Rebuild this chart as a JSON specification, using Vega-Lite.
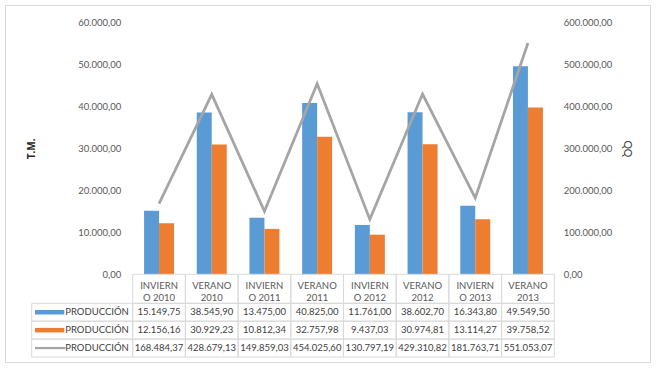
{
  "$schema": "https://vega.github.io/schema/vega-lite/v6.json",
  "width": 645,
  "height": 357,
  "padding": 5,
  "autosize": {"type": "none"},
  "background": "white",
  "config": {
    "locale": {"number": {"decimal": ",", "thousands": ".", "grouping": [3], "currency": ["", ""]}},
    "view": {"stroke": "#D9D9D9", "strokeWidth": 1},
    "font": "Lato"
  },
  "datasets": {
    "prod": [
      {"cat": "INVIERNO 2010", "a": 15149.75, "b": 12156.16, "q": 168484.37},
      {"cat": "VERANO 2010", "a": 38545.90, "b": 30929.23, "q": 428679.13},
      {"cat": "INVIERNO 2011", "a": 13475.00, "b": 10812.34, "q": 149859.03},
      {"cat": "VERANO 2011", "a": 40825.00, "b": 32757.98, "q": 454025.60},
      {"cat": "INVIERNO 2012", "a": 11761.00, "b": 9437.03, "q": 130797.19},
      {"cat": "VERANO 2012", "a": 38602.70, "b": 30974.81, "q": 429310.82},
      {"cat": "INVIERNO 2013", "a": 16343.80, "b": 13114.27, "q": 181763.71},
      {"cat": "VERANO 2013", "a": 49549.50, "b": 39758.52, "q": 551053.07}
    ],
    "leg": [
      {"series": "a", "name": "PRODUCCIÓN"},
      {"series": "b", "name": "PRODUCCIÓN"},
      {"series": "q", "name": "PRODUCCIÓN"}
    ]
  },
  "resolve": {
    "scale": {"x": "independent", "y": "independent", "xOffset": "independent"},
    "axis": {"x": "independent", "y": "independent"}
  },
  "layer": [
    {
      "data": {"name": "prod"},
      "transform": [{"fold": ["a", "b"], "as": ["series", "value"]}],
      "mark": {"type": "bar"},
      "encoding": {
        "x": {"field": "cat", "type": "nominal", "sort": null, "axis": null,
          "scale": {"type": "band", "domain": ["INVIERNO 2010", "VERANO 2010", "INVIERNO 2011", "VERANO 2011", "INVIERNO 2012", "VERANO 2012", "INVIERNO 2013", "VERANO 2013"], "range": [127.7, 549.3], "paddingInner": 0, "paddingOuter": 0}},
        "xOffset": {"field": "series", "type": "nominal", "scale": {"domain": ["a", "b"], "paddingInner": 0, "paddingOuter": 0.757}},
        "y": {"field": "value", "type": "quantitative",
          "scale": {"domain": [0, 60000], "range": [269.3, 17.4], "nice": false},
          "axis": {"orient": "left", "offset": -127.7, "values": [0, 10000, 20000, 30000, 40000, 50000, 60000], "format": ",.2f",
            "ticks": false, "tickSize": 0, "domain": false, "grid": false, "labelPadding": 12, "labelFontSize": 9.5, "labelColor": "#595959",
            "title": "T.M.", "titleFont": "Open Sans", "titleFontSize": 10, "titleFontWeight": "bold", "titleColor": "#262626",
            "titleX": -101, "titleY": 143.3, "titleAngle": -90, "titleBaseline": "middle", "titleAlign": "center"}},
        "color": {"field": "series", "type": "nominal", "scale": {"domain": ["a", "b", "q"], "range": ["#5B9BD5", "#ED7D31", "#A5A5A5"]}, "legend": null}
      }
    },
    {
      "data": {"name": "prod"},
      "mark": {"type": "line", "color": "#A5A5A5", "strokeWidth": 2.75},
      "encoding": {
        "x": {"field": "cat", "type": "nominal", "sort": null, "axis": null,
          "scale": {"type": "band", "domain": ["INVIERNO 2010", "VERANO 2010", "INVIERNO 2011", "VERANO 2011", "INVIERNO 2012", "VERANO 2012", "INVIERNO 2013", "VERANO 2013"], "range": [127.7, 549.3], "paddingInner": 0, "paddingOuter": 0}},
        "y": {"field": "q", "type": "quantitative",
          "scale": {"domain": [0, 600000], "range": [269.3, 17.4], "nice": false},
          "axis": {"orient": "right", "offset": -95.7, "values": [0, 100000, 200000, 300000, 400000, 500000, 600000], "format": ",.2f",
            "ticks": false, "tickSize": 0, "domain": false, "grid": false, "labelPadding": 9, "labelFontSize": 9.5, "labelColor": "#595959",
            "title": "QQ", "titleFontSize": 10.5, "titleFontWeight": "normal", "titleColor": "#404040",
            "titleX": 71.7, "titleY": 143.3, "titleAngle": 90, "titleBaseline": "middle", "titleAlign": "center"}}
      }
    },
    {
      "data": {"name": "prod"},
      "mark": {"type": "rect", "fillOpacity": 0, "stroke": "#D9D9D9", "strokeWidth": 1},
      "encoding": {
        "x": {"field": "cat", "type": "nominal", "sort": null, "axis": null,
          "scale": {"type": "band", "domain": ["INVIERNO 2010", "VERANO 2010", "INVIERNO 2011", "VERANO 2011", "INVIERNO 2012", "VERANO 2012", "INVIERNO 2013", "VERANO 2013"], "range": [127.7, 549.3], "paddingInner": 0, "paddingOuter": 0}},
        "y": {"datum": "h", "type": "nominal", "axis": null, "scale": {"type": "band", "domain": ["h"], "range": [269.3, 298.3], "paddingInner": 0, "paddingOuter": 0}}
      }
    },
    {
      "data": {"name": "prod"},
      "transform": [{"calculate": "indexof(datum.cat, 'INVIERNO') == 0 ? 'INVIERN\\nO ' + slice(datum.cat, 9) : replace(datum.cat, ' ', '\\n')", "as": "lbl"}],
      "mark": {"type": "text", "lineBreak": "\n", "lineHeight": 12, "fontSize": 9.5, "color": "#595959", "align": "center", "baseline": "middle"},
      "encoding": {
        "x": {"field": "cat", "type": "nominal", "sort": null, "axis": null,
          "scale": {"type": "band", "domain": ["INVIERNO 2010", "VERANO 2010", "INVIERNO 2011", "VERANO 2011", "INVIERNO 2012", "VERANO 2012", "INVIERNO 2013", "VERANO 2013"], "range": [127.7, 549.3], "paddingInner": 0, "paddingOuter": 0}},
        "y": {"datum": "h", "type": "nominal", "axis": null, "scale": {"type": "band", "domain": ["h"], "range": [266.6, 295.6], "paddingInner": 0, "paddingOuter": 0}},
        "text": {"field": "lbl", "type": "nominal"}
      }
    },
    {
      "data": {"name": "prod"},
      "transform": [{"fold": ["a", "b", "q"], "as": ["series", "value"]}],
      "mark": {"type": "rect", "fillOpacity": 0, "stroke": "#D9D9D9", "strokeWidth": 1},
      "encoding": {
        "x": {"field": "cat", "type": "nominal", "sort": null, "axis": null,
          "scale": {"type": "band", "domain": ["INVIERNO 2010", "VERANO 2010", "INVIERNO 2011", "VERANO 2011", "INVIERNO 2012", "VERANO 2012", "INVIERNO 2013", "VERANO 2013"], "range": [127.7, 549.3], "paddingInner": 0, "paddingOuter": 0}},
        "y": {"field": "series", "type": "nominal", "axis": null, "scale": {"type": "band", "domain": ["a", "b", "q"], "range": [298.3, 352.0], "paddingInner": 0, "paddingOuter": 0}}
      }
    },
    {
      "data": {"name": "prod"},
      "transform": [{"fold": ["a", "b", "q"], "as": ["series", "value"]}],
      "mark": {"type": "text", "fontSize": 9.5, "color": "#404040", "align": "center", "baseline": "middle"},
      "encoding": {
        "x": {"field": "cat", "type": "nominal", "sort": null, "axis": null,
          "scale": {"type": "band", "domain": ["INVIERNO 2010", "VERANO 2010", "INVIERNO 2011", "VERANO 2011", "INVIERNO 2012", "VERANO 2012", "INVIERNO 2013", "VERANO 2013"], "range": [127.7, 549.3], "paddingInner": 0, "paddingOuter": 0}},
        "y": {"field": "series", "type": "nominal", "axis": null, "scale": {"type": "band", "domain": ["a", "b", "q"], "range": [298.3, 352.0], "paddingInner": 0, "paddingOuter": 0}},
        "text": {"field": "value", "type": "quantitative", "format": ",.2f"}
      }
    },
    {
      "data": {"name": "leg"},
      "mark": {"type": "rect", "fillOpacity": 0, "stroke": "#D9D9D9", "strokeWidth": 1},
      "encoding": {
        "x": {"datum": "L", "type": "nominal", "axis": null, "scale": {"type": "band", "domain": ["L"], "range": [26.7, 127.7], "paddingInner": 0, "paddingOuter": 0}},
        "y": {"field": "series", "type": "nominal", "axis": null, "scale": {"type": "band", "domain": ["a", "b", "q"], "range": [298.3, 352.0], "paddingInner": 0, "paddingOuter": 0}}
      }
    },
    {
      "data": {"name": "leg"},
      "transform": [{"filter": "datum.series != 'q'"}],
      "mark": {"type": "tick", "orient": "horizontal", "thickness": 4.5, "size": 29.3, "opacity": 1},
      "encoding": {
        "x": {"datum": "S", "type": "nominal", "axis": null, "scale": {"type": "band", "domain": ["S"], "range": [30, 59.3], "paddingInner": 0, "paddingOuter": 0}},
        "y": {"field": "series", "type": "nominal", "axis": null, "scale": {"type": "band", "domain": ["a", "b", "q"], "range": [298.3, 352.0], "paddingInner": 0, "paddingOuter": 0}},
        "color": {"field": "series", "type": "nominal", "scale": {"domain": ["a", "b", "q"], "range": ["#5B9BD5", "#ED7D31", "#A5A5A5"]}, "legend": null}
      }
    },
    {
      "data": {"name": "leg"},
      "transform": [{"filter": "datum.series == 'q'"}],
      "mark": {"type": "tick", "orient": "horizontal", "thickness": 2.2, "size": 30.5, "opacity": 1},
      "encoding": {
        "x": {"datum": "S", "type": "nominal", "axis": null, "scale": {"type": "band", "domain": ["S"], "range": [30, 60.5], "paddingInner": 0, "paddingOuter": 0}},
        "y": {"field": "series", "type": "nominal", "axis": null, "scale": {"type": "band", "domain": ["a", "b", "q"], "range": [298.3, 352.0], "paddingInner": 0, "paddingOuter": 0}},
        "color": {"field": "series", "type": "nominal", "scale": {"domain": ["a", "b", "q"], "range": ["#5B9BD5", "#ED7D31", "#A5A5A5"]}, "legend": null}
      }
    },
    {
      "data": {"name": "leg"},
      "mark": {"type": "text", "fontSize": 9.5, "color": "#404040", "align": "center", "baseline": "middle"},
      "encoding": {
        "x": {"datum": "T", "type": "nominal", "axis": null, "scale": {"type": "band", "domain": ["T"], "range": [62.7, 121.3], "paddingInner": 0, "paddingOuter": 0}},
        "y": {"field": "series", "type": "nominal", "axis": null, "scale": {"type": "band", "domain": ["a", "b", "q"], "range": [298.3, 352.0], "paddingInner": 0, "paddingOuter": 0}},
        "text": {"field": "name", "type": "nominal"}
      }
    }
  ]
}
